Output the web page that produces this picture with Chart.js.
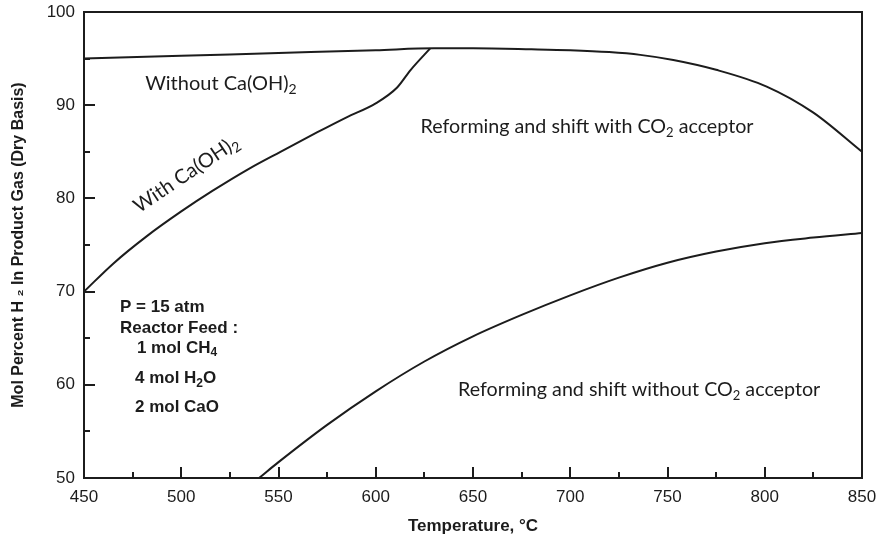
<!DOCTYPE html>
<html>
<head>
<meta charset="utf-8">
<title>Mol percent H2 vs temperature</title>
<script src="https://cdn.jsdelivr.net/npm/chart.js@4.4.1/dist/chart.umd.min.js"></script>
<style>
  html, body { margin: 0; padding: 0; background: #fff; }
</style>
</head>
<body>
<canvas id="chart" width="881" height="542"></canvas>
<script>
// Equilibrium H2 content (mol %, dry basis) against temperature (deg C)
const withoutCaOHTemp = [450, 500, 550, 600, 630, 650, 680, 700, 720, 736, 753, 775, 801, 825, 850];
const withoutCaOHH2   = [95.0, 95.3, 95.6, 95.9, 96.1, 96.1, 96.0, 95.9, 95.7, 95.4, 94.85, 93.8, 92.0, 89.2, 85.0];

const withCaOHTemp = [450, 465, 482, 500, 516, 535, 551, 570, 585, 600, 611, 618, 628];
const withCaOHH2   = [70.0, 73.0, 75.9, 78.6, 80.8, 83.2, 85.0, 87.1, 88.7, 90.2, 91.9, 93.8, 96.1];

const noAcceptorTemp = [540, 550, 575, 600, 625, 650, 675, 700, 725, 750, 775, 800, 825, 850];
const noAcceptorH2   = [50.0, 51.7, 55.7, 59.3, 62.5, 65.2, 67.5, 69.6, 71.5, 73.1, 74.3, 75.2, 75.8, 76.3];

const xRange = [450, 850];
const yRange = [50, 100];

const ink = '#1c1c1c';
const sansNote = 'Lato, "Open Sans", sans-serif';
const sansBold = '"Liberation Sans", Arial, sans-serif';

// text placed on the plot, positioned in data units; "_n" marks a subscript digit
const plotNotes = [
  { text: 'Without Ca(OH)_2', x: 520.4, y: 92.35, align: 'center', size: 20, family: sansNote, weight: '400' },
  { text: 'With Ca(OH)_2', x: 502.5, y: 82.6, align: 'center', size: 20, family: sansNote, weight: '400', angle: -34 },
  { text: 'Reforming and shift with CO_2 acceptor', x: 623, y: 87.7, align: 'left', size: 19.7, family: sansNote, weight: '400' },
  { text: 'Reforming and shift without CO_2 acceptor', x: 642.3, y: 59.45, align: 'left', size: 19.7, family: sansNote, weight: '400' },
  { text: 'P = 15 atm', x: 468.5, y: 68.35, align: 'left', size: 17, family: sansBold, weight: 'bold' },
  { text: 'Reactor Feed :', x: 468.5, y: 66.1, align: 'left', size: 17, family: sansBold, weight: 'bold' },
  { text: '1 mol CH_4', x: 477.2, y: 63.95, align: 'left', size: 17, family: sansBold, weight: 'bold' },
  { text: '4 mol H_2O', x: 476.2, y: 60.7, align: 'left', size: 17, family: sansBold, weight: 'bold' },
  { text: '2 mol CaO', x: 476.2, y: 57.6, align: 'left', size: 17, family: sansBold, weight: 'bold' }
];

const toPoints = (xs, ys) => xs.map((x, i) => ({ x: x, y: ys[i] }));

function curve(xs, ys) {
  return {
    data: toPoints(xs, ys),
    borderColor: ink,
    borderWidth: 2,
    pointRadius: 0,
    fill: false,
    cubicInterpolationMode: 'monotone'
  };
}

// split "CO_2 acceptor" into normal and subscript runs
function splitRuns(text) {
  const runs = [];
  text.split(/(_\d)/).forEach(part => {
    if (!part) return;
    if (part[0] === '_') runs.push({ t: part.slice(1), sub: true });
    else runs.push({ t: part, sub: false });
  });
  return runs;
}

function drawNote(ctx, note, px, py) {
  const runs = splitRuns(note.text);
  const subSize = Math.round(note.size * 0.68);
  let total = 0;
  runs.forEach(r => {
    ctx.font = `${note.weight} ${r.sub ? subSize : note.size}px ${note.family}`;
    r.w = ctx.measureText(r.t).width;
    total += r.w;
  });
  ctx.save();
  ctx.translate(px, py);
  if (note.angle) ctx.rotate(note.angle * Math.PI / 180);
  ctx.fillStyle = ink;
  ctx.textBaseline = 'middle';
  ctx.textAlign = 'left';
  let cx = note.align === 'center' ? -total / 2 : 0;
  runs.forEach(r => {
    ctx.font = `${note.weight} ${r.sub ? subSize : note.size}px ${note.family}`;
    ctx.fillText(r.t, cx, r.sub ? note.size * 0.3 : 0);
    cx += r.w;
  });
  ctx.restore();
}

// frame, inward tick marks and the plot notes
const framePlugin = {
  id: 'frame',
  afterDatasetsDraw(chart) {
    const { ctx, chartArea: a, scales: { x, y } } = chart;
    ctx.save();
    ctx.strokeStyle = ink;
    ctx.lineWidth = 2;
    ctx.strokeRect(a.left, a.top, a.right - a.left, a.bottom - a.top);

    ctx.beginPath();
    y.ticks.forEach(t => {
      if (t.value <= yRange[0] || t.value >= yRange[1]) return;
      const py = Math.round(y.getPixelForValue(t.value));
      const len = t.value % 10 === 0 ? 11 : 6;
      ctx.moveTo(a.left, py);
      ctx.lineTo(a.left + len, py);
    });
    x.ticks.forEach(t => {
      if (t.value <= xRange[0] || t.value >= xRange[1]) return;
      const px = Math.round(x.getPixelForValue(t.value));
      const len = t.value % 50 === 0 ? 11 : 6;
      ctx.moveTo(px, a.bottom);
      ctx.lineTo(px, a.bottom - len);
    });
    ctx.stroke();
    ctx.restore();

    plotNotes.forEach(n => drawNote(ctx, n, x.getPixelForValue(n.x), y.getPixelForValue(n.y)));
  }
};

new Chart(document.getElementById('chart'), {
  type: 'line',
  data: {
    datasets: [
      curve(withoutCaOHTemp, withoutCaOHH2),
      curve(withCaOHTemp, withCaOHH2),
      curve(noAcceptorTemp, noAcceptorH2)
    ]
  },
  options: {
    responsive: false,
    animation: false,
    devicePixelRatio: 1,
    layout: { padding: { left: 0, right: 19, top: 12, bottom: 0 } },
    plugins: { legend: { display: false }, tooltip: { enabled: false } },
    scales: {
      x: {
        type: 'linear',
        min: xRange[0],
        max: xRange[1],
        border: { display: false },
        grid: { display: false, drawTicks: false },
        ticks: {
          stepSize: 25,
          autoSkip: false,
          maxRotation: 0,
          padding: 9,
          color: ink,
          font: { family: sansBold, size: 17 },
          callback: v => (v % 50 === 0 ? v : '')
        },
        title: {
          display: true,
          text: 'Temperature, °C',
          color: ink,
          font: { family: sansBold, size: 17, weight: 'bold' },
          padding: { top: 0, bottom: 5 }
        },
        // fixed axis box so the plot area sits where it should
        afterFit: s => { s.height = 64; s.paddingLeft = 0; s.paddingRight = 0; }
      },
      y: {
        min: yRange[0],
        max: yRange[1],
        border: { display: false },
        grid: { display: false, drawTicks: false },
        ticks: {
          stepSize: 5,
          autoSkip: false,
          padding: 9,
          color: ink,
          font: { family: sansBold, size: 17 },
          callback: v => (v % 10 === 0 ? v : '')
        },
        title: {
          display: true,
          text: 'Mol Percent H ₂ In Product Gas (Dry Basis)',
          color: ink,
          font: { family: sansBold, size: 16, weight: 'bold' },
          padding: { top: 9, bottom: 0 }
        },
        afterFit: s => { s.width = 84; s.paddingTop = 0; s.paddingBottom = 0; }
      }
    }
  },
  plugins: [framePlugin]
});
</script>
</body>
</html>
